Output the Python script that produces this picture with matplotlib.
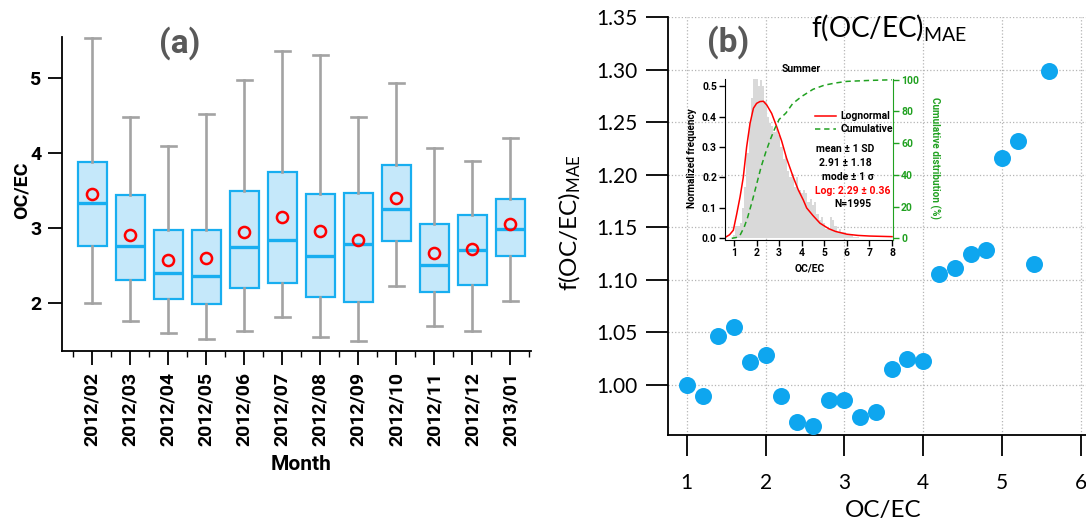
import numpy as np
import matplotlib
matplotlib.use("Agg")
import matplotlib.pyplot as plt
from matplotlib.ticker import MultipleLocator

plt.rcParams['font.family'] = ['Lato', 'DejaVu Sans']
plt.rcParams['mathtext.fontset'] = 'custom'
plt.rcParams['mathtext.rm'] = 'Lato'
plt.rcParams['mathtext.it'] = 'Lato:italic'
plt.rcParams['mathtext.bf'] = 'Lato:bold'
BOLD = ['Roboto', 'DejaVu Sans']  # Lato has no bold face here

# ---- panel (a): monthly OC/EC box stats ----
months = ['2012/02', '2012/03', '2012/04', '2012/05', '2012/06', '2012/07',
          '2012/08', '2012/09', '2012/10', '2012/11', '2012/12', '2013/01']
whis_lo = [2.00, 1.76, 1.59, 1.51, 1.63, 1.81, 1.54, 1.49, 2.22, 1.69, 1.62, 2.03]
q1 = [2.76, 2.31, 2.05, 1.99, 2.20, 2.26, 2.08, 2.01, 2.83, 2.14, 2.24, 2.62]
median = [3.34, 2.76, 2.40, 2.36, 2.74, 2.84, 2.63, 2.78, 3.25, 2.50, 2.70, 2.99]
q3 = [3.88, 3.44, 2.97, 2.97, 3.50, 3.75, 3.46, 3.47, 3.84, 3.06, 3.18, 3.39]
whis_hi = [5.54, 4.48, 4.10, 4.53, 4.98, 5.37, 5.32, 4.48, 4.94, 4.07, 3.90, 4.20]
mean = [3.45, 2.91, 2.57, 2.60, 2.95, 3.15, 2.96, 2.84, 3.40, 2.66, 2.72, 3.06]

# ---- panel (b): f(OC/EC)_MAE scatter ----
ratio = [1.0, 1.2, 1.4, 1.6, 1.8, 2.0, 2.2, 2.4, 2.6, 2.8, 3.0, 3.2,
         3.4, 3.6, 3.8, 4.0, 4.2, 4.4, 4.6, 4.8, 5.0, 5.2, 5.4, 5.6]
f_mae = [1.000, 0.989, 1.046, 1.055, 1.021, 1.028, 0.989, 0.964, 0.960, 0.985, 0.985, 0.969,
         0.974, 1.015, 1.024, 1.022, 1.105, 1.111, 1.124, 1.128, 1.216, 1.232, 1.115, 1.299]
b_yticks = [1.00, 1.05, 1.10, 1.15, 1.20, 1.25, 1.30, 1.35]
b_xticks = [1, 2, 3, 4, 5, 6]

# ---- inset: summer histogram, lognormal fit, cumulative ----
hist_x = [1.0, 1.1, 1.2, 1.3, 1.4, 1.5, 1.6, 1.7, 1.8, 1.9, 2.0, 2.1, 2.2, 2.3,
          2.4, 2.5, 2.6, 2.7, 2.8, 2.9, 3.0, 3.1, 3.2, 3.3, 3.4, 3.5, 3.6, 3.7,
          3.8, 3.9, 4.0, 4.1, 4.2, 4.3, 4.4, 4.5, 4.6, 4.7, 4.8, 4.9, 5.0, 5.1,
          5.2, 5.3, 5.4, 5.5, 5.6, 5.7, 5.8, 5.9, 6.0, 6.1, 6.2, 6.3, 6.4, 6.5]
hist_y = [0.01, 0.04, 0.04, 0.05, 0.10, 0.17, 0.28, 0.38, 0.46, 0.53, 0.53, 0.50, 0.52, 0.50,
          0.45, 0.40, 0.38, 0.37, 0.35, 0.36, 0.34, 0.30, 0.26, 0.27, 0.22, 0.20, 0.21, 0.17,
          0.20, 0.16, 0.15, 0.16, 0.15, 0.12, 0.13, 0.11, 0.12, 0.08, 0.06, 0.07, 0.05, 0.03,
          0.03, 0.07, 0.06, 0.04, 0.02, 0.03, 0.02, 0.02, 0.01, 0.01, 0.01, 0.005, 0.005, 0.005]
logn_x = [0.62, 0.8, 0.97, 1.12, 1.27, 1.41, 1.56, 1.71, 1.86, 2.0, 2.15, 2.3, 2.45, 2.67,
          2.89, 3.11, 3.33, 3.63, 3.85, 4.07, 4.22, 4.5, 4.81, 5.2, 5.5, 6.0, 6.5, 7.0, 7.5, 8.0]
logn_y = [0.004, 0.012, 0.027, 0.08, 0.137, 0.20, 0.30, 0.377, 0.427, 0.443, 0.449, 0.45, 0.438, 0.41,
          0.367, 0.32, 0.263, 0.20, 0.159, 0.126, 0.100, 0.075, 0.05, 0.032, 0.023, 0.014, 0.010, 0.008, 0.007, 0.006]
cum_x = [0.9, 1.1, 1.27, 1.45, 1.6, 1.8, 2.0, 2.2, 2.4, 2.6, 2.8, 3.0, 3.3, 3.6, 4.0, 4.5, 5.0, 5.5, 6.0, 7.0, 8.0]
cum_y = [0, 0.5, 2, 7, 13, 23, 34, 45, 54, 62, 69, 75, 79, 85, 89.5, 94, 96.6, 98, 99, 99.6, 100]

W, H = 1086, 527
BLUE = '#18aef0'
GREEN = '#21a121'


def fx(px):
    return px / W


def fy(py):
    return 1 - py / H


fig = plt.figure(figsize=(W / 100, H / 100), dpi=100)

# ================= panel (a) =================
ax1 = fig.add_axes([fx(62.3), fy(351), (531.3 - 62.3) / W, (351 - 37.3) / H])
pos = np.arange(len(months))
stats = []
for i in range(len(months)):
    stats.append(dict(whislo=whis_lo[i], q1=q1[i], med=median[i], q3=q3[i],
                      whishi=whis_hi[i], mean=mean[i], fliers=[]))
ax1.bxp(stats, positions=pos, widths=0.755, capwidths=0.39, patch_artist=True,
        showmeans=True, showfliers=False, manage_ticks=False,
        boxprops=dict(facecolor='#c5e8fa', edgecolor=BLUE, linewidth=1.6),
        medianprops=dict(color=BLUE, linewidth=2.4),
        whiskerprops=dict(color='#a3a3a3', linewidth=1.9),
        capprops=dict(color='#a3a3a3', linewidth=1.9),
        meanprops=dict(marker='o', markerfacecolor='none', markeredgecolor='red',
                       markersize=8, markeredgewidth=1.8))
ax1.set_xlim(-0.79, 11.55)
ax1.set_ylim(1.356, 5.55)
ax1.set_xticks(pos, months, rotation=90)
ax1.set_yticks([2, 3, 4, 5])
ax1.xaxis.set_minor_locator(MultipleLocator(1, offset=0.5))
for s in ['top', 'right']:
    ax1.spines[s].set_visible(False)
for s in ['left', 'bottom']:
    ax1.spines[s].set_linewidth(1.3)
ax1.tick_params(which='major', length=10, width=1.3, labelsize=14, pad=5)
ax1.tick_params(which='minor', length=4, width=1.0)
for lbl in ax1.get_xticklabels() + ax1.get_yticklabels():
    lbl.set_fontweight('bold')
    lbl.set_family(BOLD)

fig.text(fx(21.5), fy(190), 'OC/EC', rotation=90, ha='center', va='center',
         fontsize=14, fontweight='bold', family=BOLD)
fig.text(fx(301.3), fy(465), 'Month', ha='center', va='center', fontsize=15,
         fontweight='bold', family=BOLD)
fig.text(fx(180), fy(43), '(a)', ha='center', va='center', fontsize=24,
         fontweight='bold', color='#595959', family=BOLD)

# ================= panel (b) =================
ax2 = fig.add_axes([fx(668.3), fy(435.3), 1 - fx(668.3), (435.3 - 17.3) / H])
ax2.scatter(ratio, f_mae, s=150, color='#0ea6ef', linewidths=0, zorder=3)
ax2.set_xlim(0.765, 6.065)
ax2.set_ylim(0.9516, 1.35)
ax2.set_xticks(b_xticks)
ax2.set_yticks(b_yticks, [f'{v:.2f}' for v in b_yticks])
ax2.grid(True, linestyle=':', color='#b5b5b5', linewidth=0.9)
for s in ['top', 'right']:
    ax2.spines[s].set_visible(False)
for s in ['left', 'bottom']:
    ax2.spines[s].set_linewidth(1.3)
ax2.tick_params(axis='y', length=16, width=1.3, labelsize=15, pad=6)
ax2.tick_params(axis='x', length=15, width=1.3, labelsize=15, pad=12)

fig.text(fx(889), fy(36.7), r'f(OC/EC)$_{\mathrm{MAE}}$', ha='center', va='baseline', fontsize=20)
fig.text(fx(569.8), fy(223), r'f(OC/EC)$_{\mathrm{MAE}}$', rotation=90, ha='center',
         va='center', fontsize=17.5)
fig.text(fx(883), fy(510), 'OC/EC', ha='center', va='center', fontsize=17.5)
fig.text(fx(728), fy(42.5), '(b)', ha='center', va='center', fontsize=24,
         fontweight='bold', color='#595959', family=BOLD)

# ================= inset =================
ax3 = fig.add_axes([fx(725.3), fy(240), (892.7 - 725.3) / W, (240 - 79) / H])
ax3.patch.set_alpha(0)
ax3.bar(hist_x, hist_y, width=0.1, color='#d9d9d9', linewidth=0)
l1, = ax3.plot(logn_x, logn_y, color='red', linewidth=1.1, label='Lognormal')
ax3.set_xlim(0.615, 8.03)
ax3.set_ylim(-0.005, 0.523)
ax3.set_xticks([1, 2, 3, 4, 5, 6, 7, 8])
ax3.set_yticks([0, 0.1, 0.2, 0.3, 0.4, 0.5], ['0.0', '0.1', '0.2', '0.3', '0.4', '0.5'])
for s in ['top', 'right']:
    ax3.spines[s].set_visible(False)
ax3.tick_params(length=4, width=1.0, labelsize=7.5, pad=2)
for lbl in ax3.get_xticklabels() + ax3.get_yticklabels():
    lbl.set_fontweight('bold')
    lbl.set_family(BOLD)

ax4 = ax3.twinx()
l2, = ax4.plot(cum_x, cum_y, color=GREEN, linewidth=1.1, dashes=(3.5, 2.5), label='Cumulative')
ax4.set_ylim(-1.07, 100.5)
ax4.set_yticks([0, 20, 40, 60, 80, 100])
for s in ['top', 'left', 'bottom']:
    ax4.spines[s].set_visible(False)
ax4.spines['right'].set_color(GREEN)
ax4.tick_params(axis='y', colors=GREEN, length=4, width=1.0, labelsize=7.5, pad=2)
for lbl in ax4.get_yticklabels():
    lbl.set_fontweight('bold')
    lbl.set_family(BOLD)

ax3.legend(handles=[l1, l2], loc='upper left', bbox_to_anchor=(fx(810), fy(106)),
           bbox_transform=fig.transFigure, frameon=False,
           handlelength=2.0, handletextpad=0.4, borderpad=0, labelspacing=0.3,
           prop=dict(weight='bold', size=7.5, family=BOLD))

fig.text(fx(801.7), fy(69), 'Summer', ha='center', va='center', fontsize=7.5,
         fontweight='bold', family=BOLD)
fig.text(fx(691.7), fy(158), 'Normalized frequency', rotation=90, ha='center', va='center',
         fontsize=7.2, fontweight='bold', family=BOLD)
fig.text(fx(934.8), fy(157.5), 'Cumulative distribution (%)', rotation=270, ha='center',
         va='center', fontsize=7.2, fontweight='bold', color=GREEN, family=BOLD)
fig.text(fx(809.3), fy(268.3), 'OC/EC', ha='center', va='center', fontsize=7.5,
         fontweight='bold', family=BOLD)

info = [('mean ± 1 SD', 845, 149, 'black'),
        ('2.91 ± 1.18', 845, 162.7, 'black'),
        ('mode ± 1 σ', 848, 176.7, 'black'),
        ('Log: 2.29 ± 0.36', 853, 190.7, 'red'),
        ('N=1995', 852.5, 204.3, 'black')]
for txt, x, y, c in info:
    fig.text(fx(x), fy(y), txt, ha='center', va='center', fontsize=7.5,
             fontweight='bold', color=c, family=BOLD)

fig.savefig('out.png', dpi=100)
